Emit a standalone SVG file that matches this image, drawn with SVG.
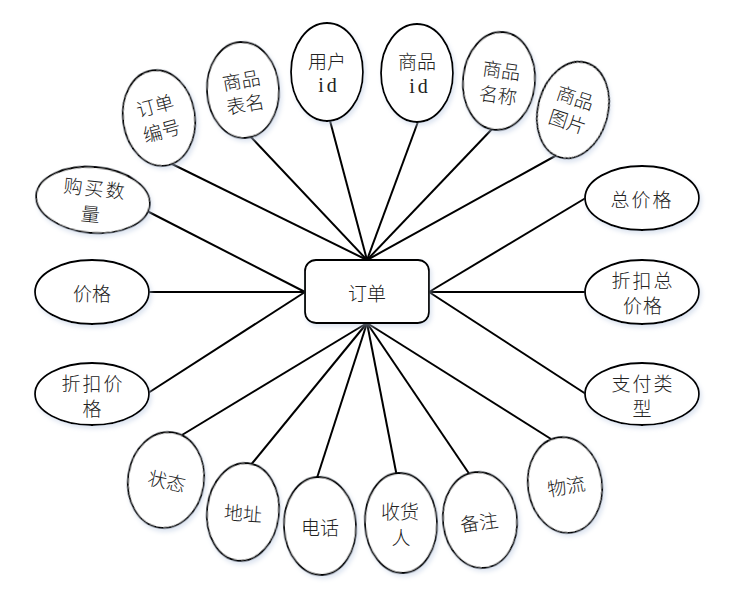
<svg xmlns="http://www.w3.org/2000/svg" width="740" height="598" viewBox="0 0 740 598">
<defs>
<filter id="sh" x="-20%" y="-20%" width="150%" height="150%">
<feDropShadow dx="2" dy="3" stdDeviation="2" flood-color="#b8c8e0" flood-opacity="0.45"/>
</filter>
</defs>
<style>
.e{fill:#fff;stroke:#000;stroke-width:1.8;filter:url(#sh)}
.t{font-family:"Noto Sans CJK SC","Noto Sans",sans-serif;font-size:19px;font-weight:300;fill:#222;text-anchor:middle;dominant-baseline:central}
.m{font-family:"Liberation Serif",serif;font-size:20px;fill:#222;text-anchor:middle;dominant-baseline:central;letter-spacing:3px}
.c line{stroke:#000;stroke-width:2}
</style>
<rect width="740" height="598" fill="#fff"/>
<g class="c" id="connectors">
<line x1="170" y1="163" x2="367" y2="260"/>
<line x1="250" y1="136" x2="367" y2="260"/>
<line x1="329" y1="117" x2="367" y2="260"/>
<line x1="419" y1="119" x2="367" y2="260"/>
<line x1="493" y1="128" x2="367" y2="260"/>
<line x1="557" y1="155" x2="367" y2="260"/>
<line x1="589" y1="196" x2="429" y2="292"/>
<line x1="589" y1="292" x2="429" y2="292"/>
<line x1="589" y1="396" x2="429" y2="292"/>
<line x1="551" y1="439" x2="367" y2="323"/>
<line x1="470" y1="475" x2="367" y2="323"/>
<line x1="397" y1="477" x2="367" y2="323"/>
<line x1="316" y1="481" x2="367" y2="323"/>
<line x1="250" y1="466" x2="367" y2="323"/>
<line x1="182" y1="435" x2="367" y2="323"/>
<line x1="145" y1="210" x2="305" y2="292"/>
<line x1="145" y1="292" x2="305" y2="292"/>
<line x1="145" y1="395" x2="305" y2="292"/>
</g>
<g id="order">
<rect x="305" y="260" width="124" height="63" rx="11" ry="11" class="e"/>
<text class="t" x="367" y="292">订单</text>
</g>
<g id="a1">
<ellipse class="e" cx="159" cy="118" rx="36" ry="48" transform="rotate(-8 159 118)"/>
<g transform="rotate(-15 158 117)"><text class="t" x="158" y="104">订单</text><text class="t" x="158" y="130">编号</text></g>
</g>
<g id="a2">
<ellipse class="e" cx="243" cy="90" rx="36" ry="48" transform="rotate(-3 243 90)"/>
<g transform="rotate(-10 243 91)"><text class="t" x="243" y="79">商品</text><text class="t" x="243" y="103">表名</text></g>
</g>
<g id="a3">
<ellipse class="e" cx="327" cy="72" rx="36" ry="49"/>
<text class="t" x="327" y="60">用户</text><text class="m" x="329" y="85">id</text>
</g>
<g id="a4">
<ellipse class="e" cx="417" cy="73" rx="36" ry="49"/>
<text class="t" x="417" y="60">商品</text><text class="m" x="420" y="86">id</text>
</g>
<g id="a5">
<ellipse class="e" cx="499" cy="81" rx="36" ry="49" transform="rotate(5 499 81)"/>
<g transform="rotate(8 500 81)"><text class="t" x="500" y="69">商品</text><text class="t" x="500" y="94">名称</text></g>
</g>
<g id="a6">
<ellipse class="e" cx="573" cy="110" rx="35" ry="49" transform="rotate(15 573 110)"/>
<g transform="rotate(18 572 108)"><text class="t" x="572" y="96">商品</text><text class="t" x="572" y="121">图片</text></g>
</g>
<g id="a7">
<ellipse class="e" cx="642" cy="198" rx="57" ry="32"/>
<text class="t" x="642" y="198" letter-spacing="2">总价格</text>
</g>
<g id="a8">
<ellipse class="e" cx="642" cy="292" rx="57" ry="32"/>
<text class="t" x="643" y="279" letter-spacing="2">折扣总</text><text class="t" x="643" y="304" letter-spacing="1">价格</text>
</g>
<g id="a9">
<ellipse class="e" cx="642" cy="394" rx="57" ry="31"/>
<text class="t" x="643" y="382" letter-spacing="2">支付类</text><text class="t" x="642" y="407">型</text>
</g>
<g id="a10">
<ellipse class="e" cx="565" cy="485" rx="37" ry="48" transform="rotate(-8 565 485)"/>
<text class="t" x="566" y="485" transform="rotate(-10 566 485)">物流</text>
</g>
<g id="a11">
<ellipse class="e" cx="480" cy="520" rx="37" ry="48" transform="rotate(-6 480 520)"/>
<text class="t" x="479" y="521" transform="rotate(-8 479 521)">备注</text>
</g>
<g id="a12">
<ellipse class="e" cx="401" cy="523" rx="36" ry="50" transform="rotate(-3 401 523)"/>
<text class="t" x="400" y="510">收货</text><text class="t" x="401" y="536">人</text>
</g>
<g id="a13">
<ellipse class="e" cx="320" cy="526" rx="36" ry="49" transform="rotate(-3 320 526)"/>
<text class="t" x="320" y="526">电话</text>
</g>
<g id="a14">
<ellipse class="e" cx="243" cy="512" rx="36" ry="49" transform="rotate(6 243 512)"/>
<text class="t" x="243" y="512" transform="rotate(4 243 512)">地址</text>
</g>
<g id="a15">
<ellipse class="e" cx="166" cy="480" rx="38" ry="48" transform="rotate(8 166 480)"/>
<text class="t" x="167" y="480" transform="rotate(12 167 480)">状态</text>
</g>
<g id="a16">
<ellipse class="e" cx="93" cy="200" rx="57" ry="33" transform="rotate(5 93 200)"/>
<g transform="rotate(6 93 200)"><text class="t" x="94" y="187" letter-spacing="2">购买数</text><text class="t" x="92" y="213">量</text></g>
</g>
<g id="a17">
<ellipse class="e" cx="92" cy="292" rx="57" ry="32"/>
<text class="t" x="92" y="292">价格</text>
</g>
<g id="a18">
<ellipse class="e" cx="92" cy="394" rx="57" ry="31"/>
<text class="t" x="93" y="382" letter-spacing="2">折扣价</text><text class="t" x="92" y="407">格</text>
</g>
</svg>
